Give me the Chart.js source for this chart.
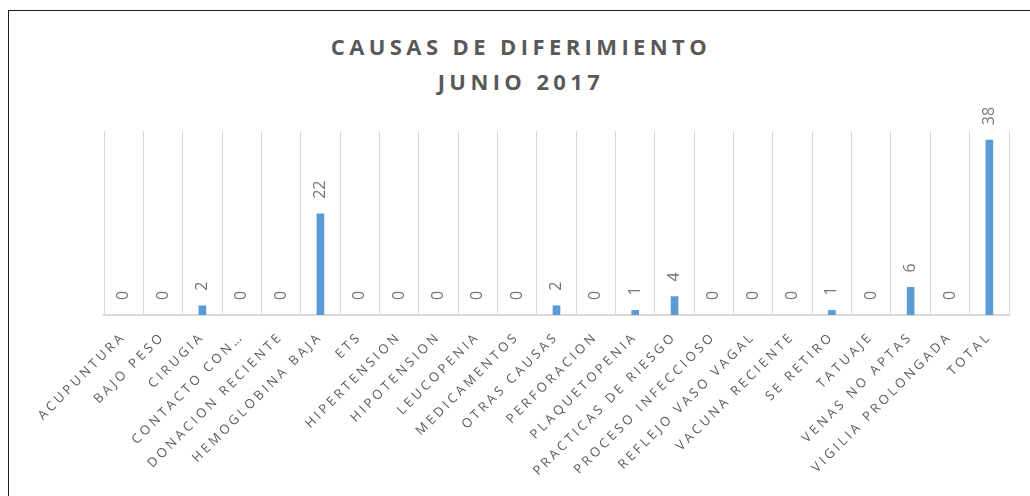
<!DOCTYPE html>
<html>
<head>
<meta charset="utf-8">
<script src="https://cdn.jsdelivr.net/npm/chart.js@4.4.1/dist/chart.umd.min.js"></script>
<style>
    html, body { margin: 0; padding: 0; background: #fff; overflow: hidden; }
    .page { width: 1030px; height: 496px; position: relative; overflow: hidden; }
    .frame {
        position: absolute; left: 8px; top: 10px; width: 1100px; height: 560px;
        border: 1.5px solid #1a1a1a; border-right: none; border-bottom: none; box-sizing: border-box;
    }
    .title {
        position: absolute; left: 0; width: 1042px; top: 29px;
        text-align: center; font-family: 'Open Sans', sans-serif; font-weight: bold;
        font-size: 22px; line-height: 35px; letter-spacing: 4.4px; color: #595959;
    }
    #chart { position: absolute; left: 0; top: 0; }
</style>
</head>
<body>
<div class="page">
    <div class="frame"></div>
    <div class="title">CAUSAS DE DIFERIMIENTO<br>JUNIO 2017</div>
    <canvas id="chart" width="1030" height="496"></canvas>
</div>
<script>
// Dati
const CATEGORIES = [
    'ACUPUNTURA', 'BAJO PESO', 'CIRUGIA', 'CONTACTO CON…', 'DONACION RECIENTE',
    'HEMOGLOBINA BAJA', 'ETS', 'HIPERTENSION', 'HIPOTENSION', 'LEUCOPENIA',
    'MEDICAMENTOS', 'OTRAS CAUSAS', 'PERFORACION', 'PLAQUETOPENIA', 'PRACTICAS DE RIESGO',
    'PROCESO INFECCIOSO', 'REFLEJO VASO VAGAL', 'VACUNA RECIENTE', 'SE RETIRO', 'TATUAJE',
    'VENAS NO APTAS', 'VIGILIA PROLONGADA', 'TOTAL'
];
const VALUES = [0, 0, 2, 0, 0, 22, 0, 0, 0, 0, 0, 2, 0, 1, 4, 0, 0, 0, 1, 0, 6, 0, 38];
const Y_MAX = 40;

const THEME = {
    font: "'Open Sans', sans-serif",
    text: '#595959',
    label: '#767676',
    grid: '#d9d9d9',
    bar: '#5b9bd5'
};

// spaziatura lettere per le etichette dell'asse x
const letterSpacingPlugin = {
    id: 'letterSpacing',
    beforeLayout: (chart) => { chart.ctx.letterSpacing = '3.2px'; },
    beforeDraw: (chart) => { chart.ctx.letterSpacing = '3.2px'; }
};

// etichette dei valori ruotate sopra le barre
const valueLabelsPlugin = {
    id: 'valueLabels',
    afterDatasetsDraw: (chart) => {
        const ctx = chart.ctx;
        const meta = chart.getDatasetMeta(0);
        const data = chart.data.datasets[0].data;
        ctx.save();
        ctx.letterSpacing = '0px';
        ctx.font = `16px ${THEME.font}`;
        ctx.fillStyle = THEME.label;
        ctx.textAlign = 'left';
        ctx.textBaseline = 'middle';
        meta.data.forEach((bar, i) => {
            ctx.save();
            ctx.translate(bar.x, bar.y - 15);
            ctx.rotate(-Math.PI / 2);
            ctx.fillText(String(data[i]), 0, 0);
            ctx.restore();
        });
        ctx.restore();
    }
};

new Chart(document.getElementById('chart'), {
    type: 'bar',
    data: {
        labels: CATEGORIES,
        datasets: [{
            data: VALUES,
            // le barre a zero non si vedono
            backgroundColor: (c) => c.raw === 0 ? 'rgba(0,0,0,0)' : THEME.bar,
            barThickness: 7
        }]
    },
    options: {
        responsive: false,
        animation: false,
        layout: { padding: { left: 104, right: 21, top: 131, bottom: 0 } },
        plugins: {
            legend: { display: false },
            tooltip: { enabled: false },
            title: { display: false }
        },
        scales: {
            x: {
                grid: { color: THEME.grid, lineWidth: 1, drawTicks: false, offset: true },
                border: { color: THEME.grid, width: 2 },
                ticks: {
                    color: THEME.text,
                    autoSkip: false,
                    minRotation: 45,
                    maxRotation: 45,
                    padding: 14,
                    font: { family: THEME.font, size: 13 }
                },
                afterFit: (scale) => { scale.height = 181; }
            },
            y: {
                display: false,
                min: 0,
                max: Y_MAX
            }
        }
    },
    plugins: [letterSpacingPlugin, valueLabelsPlugin]
});
</script>
</body>
</html>
